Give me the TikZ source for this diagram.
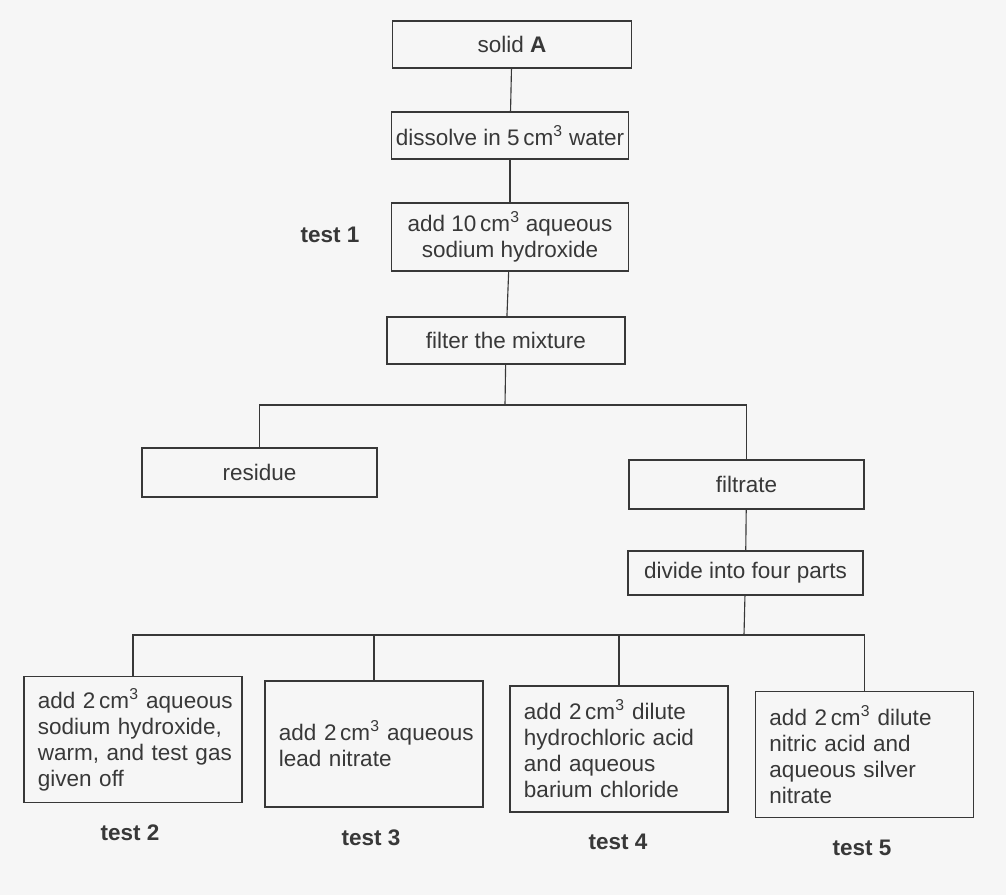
\documentclass[tikz,border=0pt]{standalone}
\usepackage{fontspec}
\setmainfont{Liberation Sans}
\usepackage{tikz}
\usetikzlibrary{positioning,calc}

\definecolor{ink}{gray}{0.22}
\definecolor{paper}{gray}{0.965}

\begin{document}
\begin{tikzpicture}[x=0.025cm,y=-0.025cm,
	font=\fontsize{16}{18.5}\selectfont,
	every node/.style={text=ink},
	box/.style={draw=ink,line width=0.8pt,minimum width=5.9cm,minimum height=1.175cm,inner sep=0pt,align=center},
	testbox/.style={draw=ink,line width=0.8pt,text width=4.75cm,minimum height=3.15cm,inner xsep=0.35cm,align=left},
	testlbl/.style={font=\fontsize{16}{18.5}\selectfont\bfseries},
	link/.style={draw=ink,line width=0.8pt}]
	
	\fill[paper] (0,0) rectangle (1006,895);
	\useasboundingbox (0,0) rectangle (1006,895);
	
	\node[box,minimum width=5.975cm] (solid) at (512,44.5) {solid \textbf{A}};
	\node[box,minimum width=5.925cm] (dissolve) at (510,135.5) {dissolve in 5\,cm\textsuperscript{3} water};
	\node[box,minimum width=5.925cm,minimum height=1.7cm] (naoh) at (510,237) {add 10\,cm\textsuperscript{3} aqueous\\sodium hydroxide};
	\node[testlbl] (tone) at (330,235) {test 1};
	\node[box,minimum width=5.95cm] (filter) at (506,340.5) {filter the mixture};
	
	\node[box,minimum width=5.875cm,minimum height=1.225cm] (residue) at (259.5,472.5) {residue};
	\node[box,minimum width=5.875cm,minimum height=1.225cm] (filtrate) at (746.5,484.5) {filtrate};
	\node[box,minimum width=5.875cm,minimum height=1.1cm] (divide) at (745.5,573) {divide into four parts};
	
	\node[testbox] (ammonia) at (133,739.5)
	{\mbox{add 2\,cm\textsuperscript{3} aqueous}\\\mbox{sodium hydroxide,}\\\mbox{warm, and test gas}\\given off};
	\node[testbox] (lead) at (374,744)
	{\mbox{add 2\,cm\textsuperscript{3} aqueous}\\lead nitrate};
	\node[testbox] (barium) at (619,749)
	{add 2\,cm\textsuperscript{3} dilute\\\mbox{hydrochloric acid}\\and aqueous\\\mbox{barium chloride}};
	\node[testbox] (silver) at (864.5,754.5)
	{add 2\,cm\textsuperscript{3} dilute\\nitric acid and\\aqueous silver\\nitrate};
	
	\node[testlbl] (ttwo) at (130,833) {test 2};
	\node[testlbl] (tthree) at (371,838) {test 3};
	\node[testlbl] (tfour) at (618,842) {test 4};
	\node[testlbl] (tfive) at (862,848) {test 5};
	
	\draw[link] (solid) -- (dissolve);
	\draw[link] (dissolve) -- (naoh);
	\draw[link] (naoh) -- (filter);
	
	\coordinate (split) at (505,405);
	\draw[link] (filter) -- (split);
	\draw[link] (residue) |- (split) -| (filtrate);
	\draw[link] (filtrate) -- (divide);
	
	\coordinate (quarter) at (744,635);
	\draw[link] (divide) -- (quarter);
	\draw[link] (ammonia) |- (quarter) -| (silver);
	\draw[link] (lead) -- (lead |- quarter);
	\draw[link] (barium) -- (barium |- quarter);
	
\end{tikzpicture}
\end{document}
